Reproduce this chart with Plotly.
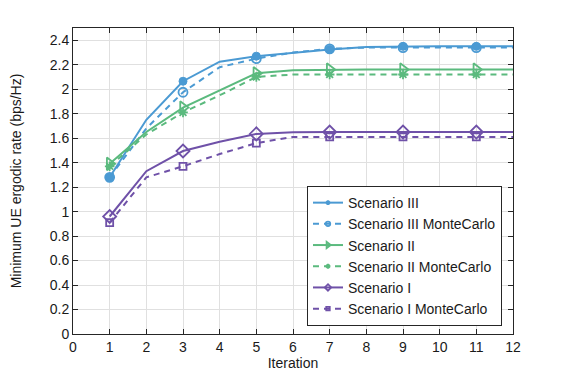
import plotly.graph_objects as go

iterations = list(range(1, 13))
s3 = [1.28, 1.75, 2.065, 2.225, 2.27, 2.30, 2.325, 2.345, 2.35, 2.35, 2.35, 2.35]
s3_mc = [1.28, 1.68, 1.975, 2.18, 2.25, 2.30, 2.33, 2.34, 2.34, 2.34, 2.34, 2.34]
s2 = [1.39, 1.65, 1.85, 1.99, 2.13, 2.155, 2.16, 2.16, 2.16, 2.16, 2.16, 2.16]
s2_mc = [1.37, 1.63, 1.81, 1.95, 2.10, 2.12, 2.12, 2.12, 2.12, 2.12, 2.12, 2.12]
s1 = [0.96, 1.33, 1.495, 1.57, 1.635, 1.648, 1.65, 1.65, 1.65, 1.65, 1.65, 1.65]
s1_mc = [0.91, 1.28, 1.37, 1.47, 1.56, 1.61, 1.61, 1.61, 1.61, 1.61, 1.61, 1.61]

x_ticks = list(range(0, 13))
y_ticks = [0, 0.2, 0.4, 0.6, 0.8, 1, 1.2, 1.4, 1.6, 1.8, 2, 2.2, 2.4]
y_tick_text = ["0", "0.2", "0.4", "0.6", "0.8", "1", "1.2", "1.4", "1.6", "1.8", "2", "2.2", "2.4"]

BLUE = "#4B9AD3"
GREEN = "#5BBA7E"
PURPLE = "#6F51A8"

FONT = "Liberation Sans, Arial, Helvetica, sans-serif"

def sizes(sz):
    return [sz if (i % 2 == 1) else 0 for i in iterations]

series = [
    ("Scenario III", s3, BLUE, "solid", "circle", 8, 1),
    ("Scenario III MonteCarlo", s3_mc, BLUE, "dash", "circle-open", 9, 1.8),
    ("Scenario II", s2, GREEN, "solid", "triangle-right-open", 11, 1.8),
    ("Scenario II MonteCarlo", s2_mc, GREEN, "dash", "asterisk-open", 8, 1.8),
    ("Scenario I", s1, PURPLE, "solid", "diamond-open", 10, 1.8),
    ("Scenario I MonteCarlo", s1_mc, PURPLE, "dash", "square-open", 7, 1.8),
]

fig = go.Figure()
for name, ys, col, dash, sym, sz, lw in series:
    fig.add_trace(go.Scatter(
        x=iterations, y=ys, name=name, mode="lines+markers",
        line=dict(color=col, width=2, dash=dash if dash == "solid" else "6px,5px"),
        marker=dict(symbol=sym, size=sizes(sz), color=col, opacity=1,
                    line=dict(color=col, width=lw)),
    ))

axis_common = dict(
    showline=True, linecolor="#262626", linewidth=1, mirror="ticks",
    ticks="inside", ticklen=5, tickcolor="#262626",
    showgrid=True, gridcolor="#E0E0E0", gridwidth=1,
    zeroline=False, automargin=False,
    tickfont=dict(family=FONT, size=14, color="#1a1a1a"),
    title_font=dict(family=FONT, size=14, color="#1a1a1a"),
)

fig.update_layout(
    width=557, height=369,
    margin=dict(l=65, r=52, t=20, b=43),
    paper_bgcolor="white", plot_bgcolor="white",
    font=dict(family=FONT, size=14, color="#1a1a1a"),
    xaxis=dict(range=[0, 12], tickvals=x_ticks, title=dict(text="Iteration", standoff=4), **axis_common),
    yaxis=dict(range=[0, 2.5], tickvals=y_ticks, ticktext=y_tick_text,
               title=dict(text="Minimum UE ergodic rate (bps/Hz)", standoff=25), **axis_common),
    legend=dict(x=0.975, y=0.026, xanchor="right", yanchor="bottom",
                bgcolor="white", bordercolor="#262626", borderwidth=1,
                font=dict(family=FONT, size=14), tracegroupgap=0, itemwidth=30,
                traceorder="normal"),
    showlegend=True,
)

fig.write_html("out.html")
